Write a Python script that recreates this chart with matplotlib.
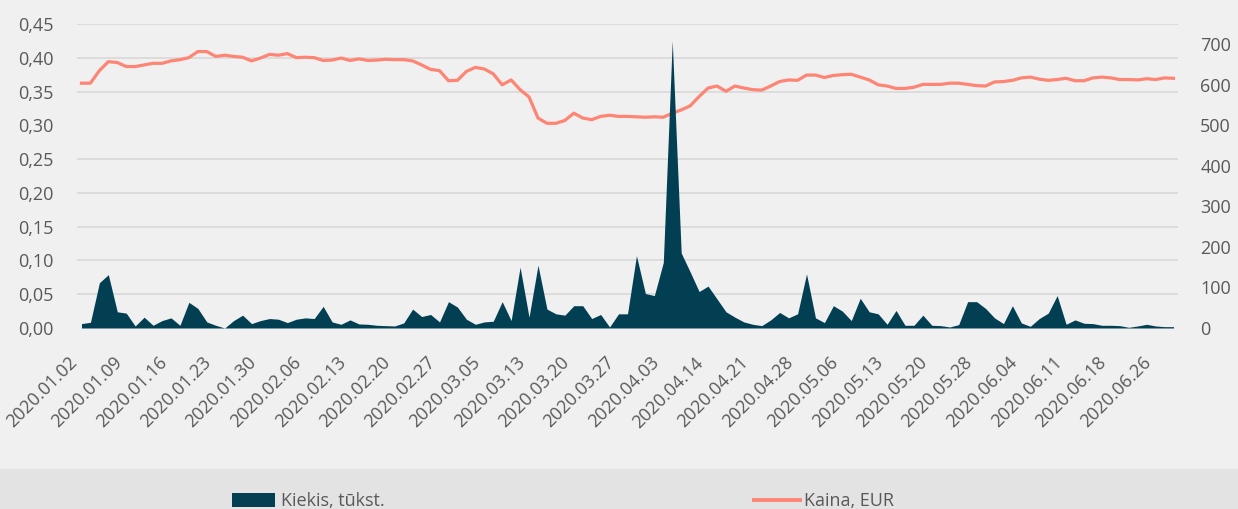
import matplotlib
matplotlib.use("Agg")
import matplotlib.pyplot as plt
import matplotlib.transforms as mtransforms
from matplotlib.patches import Rectangle, Patch
from matplotlib.lines import Line2D
from matplotlib.ticker import FuncFormatter, MultipleLocator
import numpy as np
import pandas as pd

plt.rcParams['font.family'] = ['Open Sans', 'DejaVu Sans']

# prekybos dienos (be svenciu)
holidays = ["2020-01-01", "2020-03-11", "2020-04-10", "2020-04-13",
            "2020-05-01", "2020-05-22", "2020-06-24"]
dates = [d for d in pd.bdate_range("2020-01-02", "2020-06-30")
         if d.strftime("%Y-%m-%d") not in holidays]
date_labels = [d.strftime("%Y.%m.%d") for d in dates]

# Kiekis, tukst.
volume = [0.0065, 0.0084, 0.067, 0.079, 0.024, 0.022, 0.003, 0.016, 0.004, 0.011,
          0.015, 0.004, 0.038, 0.029, 0.009, 0.004, 0.0, 0.011, 0.019, 0.0065,
          0.011, 0.014, 0.013, 0.008, 0.013, 0.015, 0.014, 0.032, 0.009, 0.0055,
          0.012, 0.006, 0.0055, 0.004, 0.0035, 0.003, 0.0075, 0.028, 0.017, 0.020,
          0.009, 0.039, 0.031, 0.013, 0.0055, 0.009, 0.010, 0.039, 0.011, 0.090,
          0.016, 0.093, 0.028, 0.021, 0.019, 0.033, 0.033, 0.014, 0.020, 0.0015,
          0.021, 0.021, 0.107, 0.051, 0.048, 0.097, 0.425, 0.111, 0.083, 0.054,
          0.062, 0.043, 0.024, 0.016, 0.009, 0.0055, 0.0035, 0.012, 0.023, 0.015,
          0.021, 0.080, 0.015, 0.008, 0.033, 0.025, 0.011, 0.044, 0.024, 0.021,
          0.0055, 0.026, 0.004, 0.004, 0.019, 0.004, 0.0035, 0.0015, 0.005, 0.039,
          0.039, 0.029, 0.015, 0.0065, 0.033, 0.0075, 0.0025, 0.014, 0.022, 0.048,
          0.0055, 0.012, 0.007, 0.0065, 0.004, 0.004, 0.0035, 0.001, 0.003, 0.0055,
          0.003, 0.002, 0.002]

# Kaina, EUR
price = [604, 604, 635, 657, 655, 645, 645, 649, 653, 653,
         659, 662, 667, 682, 682, 670, 673, 670, 668, 659,
         666, 675, 673, 677, 667, 668, 667, 660, 661, 666,
         660, 664, 660, 661, 663, 662, 662, 659, 649, 638,
         635, 610, 611, 633, 643, 639, 627, 600, 612, 588,
         570, 518, 505, 505, 512, 530, 518, 514, 522, 525,
         522, 522, 521, 520, 521, 520, 530, 538, 548, 571,
         592, 597, 584, 597, 592, 588, 587, 597, 608, 612,
         611, 624, 624, 618, 623, 625, 626, 619, 612, 600,
         597, 591, 591, 594, 601, 601, 601, 604, 604, 601,
         598, 597, 607, 608, 611, 617, 619, 614, 611, 613,
         616, 610, 610, 617, 619, 617, 613, 613, 612, 615,
         613, 617, 616]

teal = "#023f52"
salmon = "#fe8473"
txt = "#595959"
bg = "#f0f0f0"

fig = plt.figure(figsize=(12.38, 5.09), dpi=100, facecolor=bg)
fig.patches.append(Rectangle((0, 0), 1, 40 / 509, transform=fig.transFigure,
                             facecolor="#e3e3e3", edgecolor="none", zorder=0))

ax2 = fig.add_axes([77 / 1238, 1 - 328 / 509, 1101 / 1238, 304 / 509])
ax = ax2.twinx()
ax.yaxis.tick_left()
ax2.yaxis.tick_right()
ax2.set_facecolor(bg)
ax2.set_zorder(1)
ax.set_zorder(2)
ax.patch.set_visible(False)

x = np.arange(len(dates))

# kaina (desine asis)
ax2.plot(x, price, color=salmon, linewidth=2.3, solid_joinstyle="round", zorder=3)
ax2.set_ylim(0, 750)
ax2.set_yticks(range(0, 701, 100))
ax2.yaxis.set_minor_locator(MultipleLocator(750 / 9))
ax2.grid(which="minor", axis="y", color="#d6d6d6", linewidth=1.1)
ax2.set_axisbelow(True)

# kiekis (kaire asis)
ax.fill_between(x, volume, 0, color=teal, linewidth=0)
ax.set_ylim(0, 0.45)
ax.set_yticks(np.arange(0, 0.451, 0.05))
ax.yaxis.set_major_formatter(FuncFormatter(lambda v, p: f"{v:.2f}".replace(".", ",")))

ax.set_xlim(-0.5, len(dates) - 0.5)
ax2.set_xticks(x[::5])
ax2.set_xticklabels(date_labels[::5], rotation=45, ha="right", va="center",
                    rotation_mode="anchor")
ax2.tick_params(axis="x", length=0, pad=23, labelsize=13, labelcolor=txt)
ax2.tick_params(axis="y", which="both", length=0, pad=16, labelsize=13, labelcolor=txt)
ax.tick_params(axis="y", length=0, pad=17, labelsize=13, labelcolor=txt)

shift = mtransforms.ScaledTranslation(-7 / 100, 0, fig.dpi_scale_trans)
for lbl in ax2.get_xticklabels():
    lbl.set_transform(lbl.get_transform() + shift)

for a in (ax, ax2):
    for s in a.spines.values():
        s.set_visible(False)

# legenda
h1 = Patch(facecolor=teal, edgecolor="none")
h2 = Line2D([0], [0], color=salmon, linewidth=2.8)
leg1 = fig.legend(handles=[h1], labels=["Kiekis, tūkst."], loc="center left",
                  bbox_to_anchor=(232 / 1238, 1 - 501 / 509), frameon=False,
                  borderpad=0, borderaxespad=0, handlelength=2.4, handleheight=0.8,
                  handletextpad=0.3, fontsize=13, labelcolor=txt)
leg2 = fig.legend(handles=[h2], labels=["Kaina, EUR"], loc="center left",
                  bbox_to_anchor=(754 / 1238, 1 - 501 / 509), frameon=False,
                  borderpad=0, borderaxespad=0, handlelength=2.55,
                  handletextpad=0.2, fontsize=13, labelcolor=txt)

fig.savefig("out.png", dpi=100, facecolor=bg)
